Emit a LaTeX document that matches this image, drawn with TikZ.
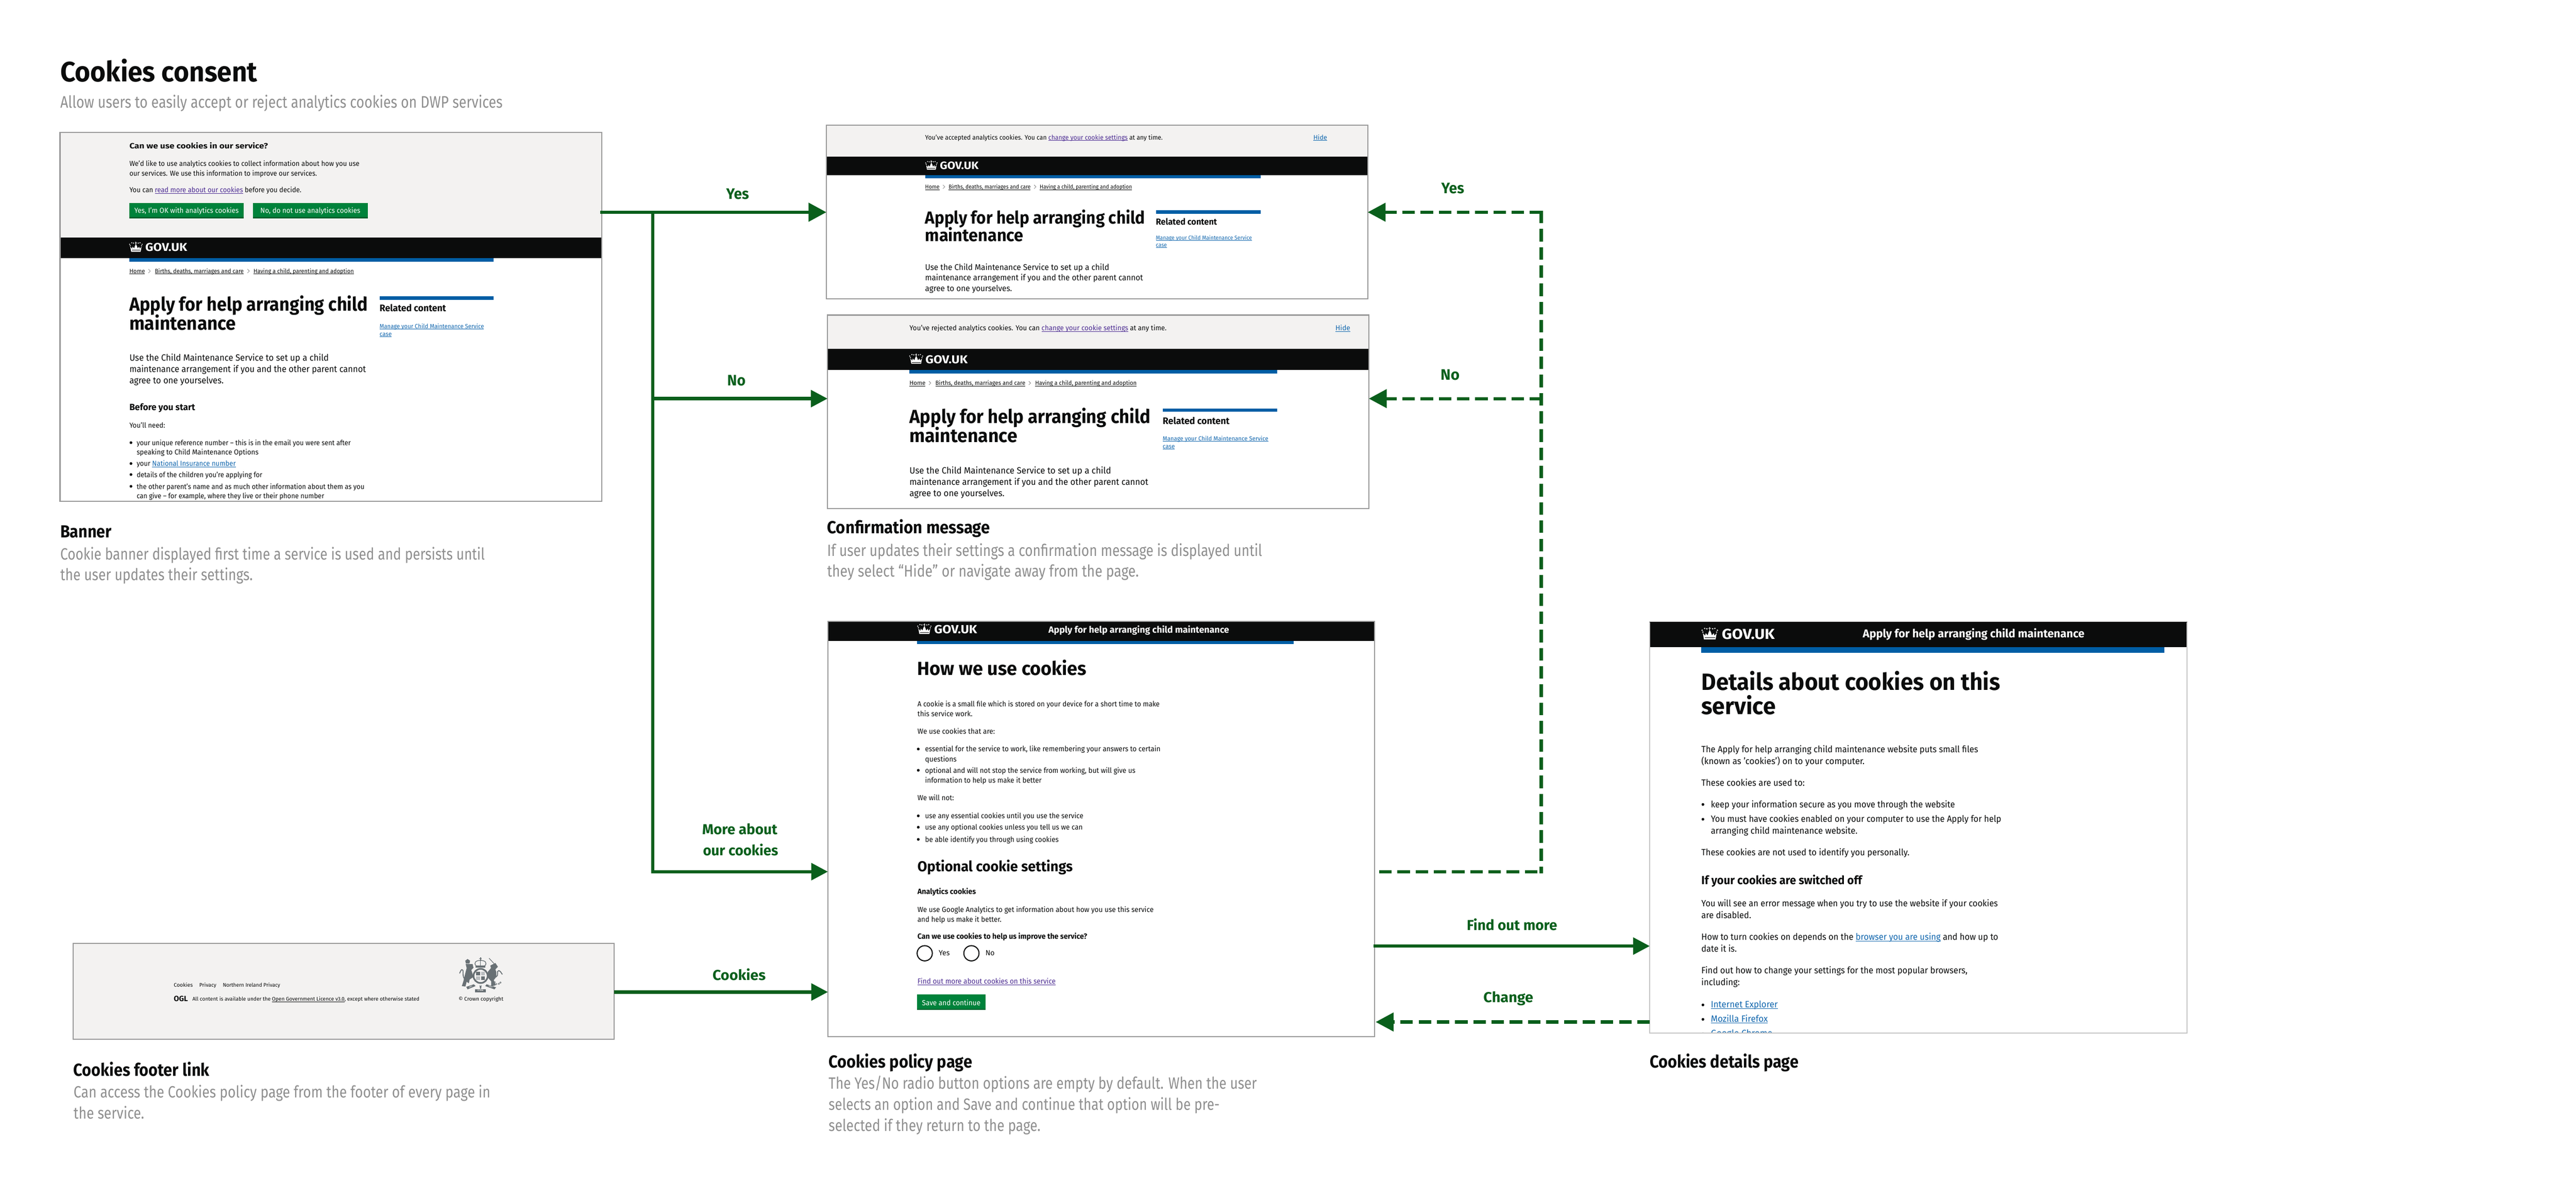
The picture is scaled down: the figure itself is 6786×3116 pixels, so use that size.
\documentclass[tikz,border=0pt]{standalone}
\usepackage{fontspec}
\usepackage{graphicx}
\setmainfont{Fira Sans}
\usetikzlibrary{arrows.meta}
\definecolor{ink}{HTML}{0B0C0C}
\definecolor{bandgrey}{HTML}{F3F2F1}
\definecolor{edgegrey}{HTML}{999999}
\definecolor{capgrey}{HTML}{8F8F8F}
\definecolor{barblue}{HTML}{005EA5}
\definecolor{lnkblue}{HTML}{1267AE}
\definecolor{lnkpurple}{HTML}{4C2C92}
\definecolor{flowgreen}{HTML}{0A5F1C}
\definecolor{btngreen}{HTML}{00823B}
\definecolor{btndark}{HTML}{00622D}
\definecolor{crestgrey}{HTML}{687074}
\newcounter{txc}
\newcommand{\tx}[6][]{%
  \stepcounter{txc}%
  \pgfmathsetmacro\txW{(#3-#2)*0.5}%
  \pgfmathsetmacro\txF{#5*0.5}%
  \node[txt,#1] (t\arabic{txc}) at (#2,#4) {\fontsize{\txF pt}{\txF pt}\selectfont\resizebox{\txW pt}{\height}{#6}};}
\newcommand{\lnk}[2][lnkblue]{{\color{#1}\setbox0=\hbox{#2}\rlap{\rule[-0.13em]{\wd0}{0.06em}}\box0}}
\newcommand{\panelnode}[6][panel]{%
  \pgfmathsetmacro\pnW{(#5-#3)*0.5}%
  \pgfmathsetmacro\pnH{(#6-#4)*0.5}%
  \node[#1,minimum width=\pnW pt,minimum height=\pnH pt] (#2) at ({(#3+#5)/2},{(#4+#6)/2}) {};}
\newcommand{\edge}[2][edgegrey]{\draw[#1,line width=1.5pt] (#2.north west) rectangle (#2.south east);}
\newcommand{\bul}[2]{\fill[ink] (#1,#2) circle (3.6);}
\newcommand{\chev}[2]{\draw[gray,line width=0.5pt] (#1-3,#2-11) -- (#1+2,#2-6) -- (#1-3,#2-1);}
\newcommand{\crownat}[3]{% left, baseline, width
  \pgfmathsetmacro\crK{#3/46}%
  \pgfmathsetmacro\crY{#2+1-34*\crK}%
  \pic[scale=\crK] at (#1,\crY) {govcrown};}
\tikzset{
  txt/.style={anchor=base west,inner sep=0pt,outer sep=0pt,text=ink},
  bf/.style={font=\bfseries},
  capt/.style={text=capgrey},
  wht/.style={text=white},
  lab/.style={text=flowgreen,font=\bfseries},
  panel/.style={rectangle,inner sep=0pt,outer sep=0pt,fill=white},
  flow/.style={draw=flowgreen,line width=4.4pt,-{Triangle[length=22pt,width=22pt]},color=flowgreen},
  flowbig/.style={draw=flowgreen,line width=4.5pt,-{Triangle[length=23.5pt,width=24pt]},color=flowgreen},
  flowline/.style={draw=flowgreen,line width=4.25pt},
  flowd/.style={flowbig,line width=4.25pt,dash pattern=on 16.5pt off 7.5pt},
  flowdline/.style={flowline,dash pattern=on 16.5pt off 7.5pt},
  govcrown/.pic={
    \fill[white] (4,17) -- (10,24) -- (12,17) -- (17,23) -- (20,14) -- (23,9) -- (26,14) -- (29,23) -- (34,17) -- (36,24) -- (42,17) -- (39,34) -- (7,34) -- cycle;
    \fill[white] (22,0) rectangle (24,10);
    \fill[white] (19.5,3) rectangle (26.5,5);
    \foreach \a/\b in {2/9,9/4,15/5,31/5,37/4,44/9,4/14,42/14} {\fill[white] (\a,\b) circle (2);}
    \draw[ink,line width=0.3pt] (9,29) -- (37,29);
  }
}
\begin{document}
\begin{tikzpicture}[x=0.5pt,y=-0.5pt]
\useasboundingbox (0,0) rectangle (6786,3116);
\fill[white] (0,0) rectangle (6786,3116);

% Heading
\tx[bf]{159}{678}{215}{74}{Cookies consent}
\tx[capt]{159}{1324}{284}{44}{Allow users to easily accept or reject analytics cookies on DWP services}

% ===== Banner panel =====
\panelnode{banner}{158}{349}{1585}{1321}
\fill[bandgrey] (banner.north west) rectangle (1585,625);
\fill[ink] (158,625) rectangle (1585,680);
\fill[barblue] (340,680) rectangle (1300,690);
\tx[bf]{341}{706}{392}{20}{Can we use cookies in our service?}
\tx{341}{947}{438}{19}{We'd like to use analytics cookies to collect information about how you use}
\tx{341}{835}{463}{19}{our services. We use this information to improve our services.}
\tx{341}{794}{507.5}{19}{You can \lnk[lnkpurple]{read more about our cookies} before you decide.}
\fill[btngreen] (340,535) rectangle (642,575);
\fill[btndark] (340,572) rectangle (642,575);
\tx[wht]{354}{629}{561}{19}{Yes, I'm OK with analytics cookies}
\fill[btngreen] (666,535) rectangle (969,575);
\fill[btndark] (666,572) rectangle (969,575);
\tx[wht]{686}{949}{561}{19}{No, do not use analytics cookies}
\crownat{340}{662}{36}
\tx[wht,bf]{383}{493}{662}{30}{GOV.UK}
\tx{341}{382}{720}{16}{\lnk[ink]{Home}}
\chev{394}{720}
\tx{408}{642}{720}{16}{\lnk[ink]{Births, deaths, marriages and care}}
\chev{655}{720}
\tx{668}{932}{720}{16}{\lnk[ink]{Having a child, parenting and adoption}}
\tx[bf]{341}{969}{819}{50}{Apply for help arranging child}
\tx[bf]{341}{622}{869}{50}{maintenance}
\fill[barblue] (1000,780) rectangle (1300,790);
\tx[bf]{1000}{1175}{821}{25}{Related content}
\tx{1000}{1275}{865}{16}{\lnk{Manage your Child Maintenance Service}}
\tx{1000}{1032}{885}{16}{\lnk{case}}
\tx{341}{866}{951}{24}{Use the Child Maintenance Service to set up a child}
\tx{341}{964}{981}{24}{maintenance arrangement if you and the other parent cannot}
\tx{341}{589}{1011}{24}{agree to one yourselves.}
\tx[bf]{341}{514}{1080.5}{24}{Before you start}
\tx{341}{435}{1127}{19}{You’ll need:}
\bul{345}{1166}
\tx{360}{924}{1173}{19}{your unique reference number – this is in the email you were sent after}
\tx{360}{681}{1198}{19}{speaking to Child Maintenance Options}
\bul{345}{1221}
\tx{360}{621}{1228}{19}{your \lnk{National Insurance number}}
\bul{345}{1250}
\tx{360}{691}{1257.5}{19}{details of the children you’re applying for}
\bul{345}{1281}
\tx{360}{960}{1288}{19}{the other parent's name and as much other information about them as you}
\tx{360}{854}{1313}{19}{can give – for example, where they live or their phone number}
\edge{banner}
\tx[bf]{159}{294}{1416}{46}{Banner}
\tx[capt]{159}{1277}{1474}{43}{Cookie banner displayed first time a service is used and persists until}
\tx[capt]{159}{666}{1529}{43}{the user updates their settings.}

% ===== Accepted confirmation =====
\panelnode{yes}{2177}{330}{3603}{787}
\fill[bandgrey] (yes.north west) rectangle (3603,412);
\fill[ink] (2177,412) rectangle (3603,462);
\fill[barblue] (2437,462) rectangle (3321,470);
\tx{2437}{3063}{368}{17.5}{You’ve accepted analytics cookies. You can \lnk[lnkpurple]{change your cookie settings} at any time.}
\tx{3460}{3496}{368}{17.5}{\lnk{Hide}}
\crownat{2437}{446}{33}
\tx[wht,bf]{2476}{2578}{446}{28}{GOV.UK}
\tx{2437}{2475}{498}{15}{\lnk[ink]{Home}}
\chev{2487}{498}
\tx{2499}{2715}{498}{15}{\lnk[ink]{Births, deaths, marriages and care}}
\chev{2727}{498}
\tx{2739}{2982}{498}{15}{\lnk[ink]{Having a child, parenting and adoption}}
\tx[bf]{2437}{3016}{590}{46}{Apply for help arranging child}
\tx[bf]{2437}{2696}{636}{46}{maintenance}
\fill[barblue] (3045,554) rectangle (3321,563);
\tx[bf]{3045}{3206}{592}{23}{Related content}
\tx{3045}{3298}{632}{15}{\lnk{Manage your Child Maintenance Service}}
\tx{3045}{3074}{651}{15}{\lnk{case}}
\tx{2437}{2922}{712}{22}{Use the Child Maintenance Service to set up a child}
\tx{2437}{3011}{739}{22}{maintenance arrangement if you and the other parent cannot}
\tx{2437}{2666}{767}{22}{agree to one yourselves.}
\edge{yes}

% ===== Rejected confirmation =====
\panelnode{no}{2180}{830}{3606}{1340}
\fill[bandgrey] (no.north west) rectangle (3606,919);
\fill[ink] (2180,919) rectangle (3606,974);
\fill[barblue] (2395,974) rectangle (3365,984);
\tx{2396}{3073}{871}{19}{You’ve rejected analytics cookies. You can \lnk[lnkpurple]{change your cookie settings} at any time.}
\tx{3518}{3557}{871}{19}{\lnk{Hide}}
\crownat{2395}{957}{37}
\tx[wht,bf]{2438}{2549}{957}{30}{GOV.UK}
\tx{2396}{2438}{1015}{16}{\lnk[ink]{Home}}
\chev{2450}{1015}
\tx{2464}{2701}{1015}{16}{\lnk[ink]{Births, deaths, marriages and care}}
\chev{2713}{1015}
\tx{2727}{2994}{1015}{16}{\lnk[ink]{Having a child, parenting and adoption}}
\tx[bf]{2396}{3031}{1115}{50}{Apply for help arranging child}
\tx[bf]{2396}{2680}{1165}{50}{maintenance}
\fill[barblue] (3063,1076) rectangle (3365,1085);
\tx[bf]{3063}{3239}{1117}{25}{Related content}
\tx{3063}{3341}{1160.5}{16}{\lnk{Manage your Child Maintenance Service}}
\tx{3063}{3095}{1181}{16}{\lnk{case}}
\tx{2396}{2927}{1248}{24}{Use the Child Maintenance Service to set up a child}
\tx{2396}{3025}{1278}{24}{maintenance arrangement if you and the other parent cannot}
\tx{2396}{2646}{1308}{24}{agree to one yourselves.}
\edge{no}
\tx[bf]{2179}{2608}{1406}{46}{Confirmation message}
\tx[capt]{2179}{3325}{1465}{43}{If user updates their settings a confirmation message is displayed until}
\tx[capt]{2179}{3000}{1520}{43}{they select “Hide” or navigate away from the page.}

% ===== Cookies policy page =====
\panelnode{policy}{2181}{1637}{3621}{2731}
\fill[ink] (2181,1637) rectangle (3621,1688);
\fill[barblue] (2416,1688) rectangle (3408,1697);
\crownat{2416}{1669}{38}
\tx[wht,bf]{2461}{2574}{1669}{31}{GOV.UK}
\tx[wht,bf]{2762}{3238}{1667}{24}{Apply for help arranging child maintenance}
\tx[bf]{2417}{2862}{1779}{50}{How we use cookies}
\tx{2417}{3055}{1861}{19.5}{A cookie is a small file which is stored on your device for a short time to make}
\tx{2417}{2562}{1887}{19.5}{this service work.}
\tx{2417}{2621}{1933}{19.5}{We use cookies that are:}
\bul{2419}{1973}
\tx{2437}{3057}{1980}{19.5}{essential for the service to work, like remembering your answers to certain}
\tx{2437}{2520}{2006}{19.5}{questions}
\bul{2419}{2029}
\tx{2437}{2991}{2036}{19.5}{optional and will not stop the service from working, but will give us}
\tx{2437}{2744}{2062}{19.5}{information to help us make it better}
\tx{2417}{2513}{2109}{19.5}{We will not:}
\bul{2419}{2149}
\tx{2437}{2854}{2156}{19.5}{use any essential cookies until you use the service}
\bul{2419}{2179}
\tx{2437}{2852}{2186}{19.5}{use any optional cookies unless you tell us we can}
\bul{2419}{2211}
\tx{2437}{2789}{2218}{19.5}{be able identify you through using cookies}
\tx[bf]{2417}{2826}{2296}{38}{Optional cookie settings}
\tx[bf]{2417}{2571}{2355.5}{20}{Analytics cookies}
\tx{2417}{3039}{2403}{19.5}{We use Google Analytics to get information about how you use this service}
\tx{2417}{2638}{2428}{19.5}{and help us make it better.}
\tx[bf]{2417}{2864}{2474}{20}{Can we use cookies to help us improve the service?}
\draw[ink,line width=1.4pt] (2436,2511) circle (20);
\tx{2473}{2502}{2517}{19.5}{Yes}
\draw[ink,line width=1.4pt] (2559,2511) circle (20);
\tx{2596}{2620}{2517}{19.5}{No}
\tx{2417}{2781}{2592}{19.5}{\lnk[lnkpurple]{Find out more about cookies on this service}}
\fill[btngreen] (2416,2620) rectangle (2596,2660);
\fill[btndark] (2416,2657) rectangle (2596,2660);
\tx[wht]{2429}{2583}{2648}{19.5}{Save and continue}
\edge{policy}
\tx[bf]{2183}{2561}{2813}{46}{Cookies policy page}
\tx[capt]{2183}{3311}{2869}{43}{The Yes/No radio button options are empty by default. When the user}
\tx[capt]{2183}{3213}{2924}{43}{selects an option and Save and continue that option will be pre-}
\tx[capt]{2183}{2741}{2980}{43}{selected if they return to the page.}

% ===== Cookies details page =====
\panelnode{details}{4346}{1638}{5761}{2721}
\fill[ink] (4346,1638) rectangle (5761,1705);
\fill[barblue] (4481,1705) rectangle (5701,1719);
\crownat{4482}{1683}{44}
\tx[wht,bf]{4536}{4675}{1683}{38}{GOV.UK}
\tx[wht,bf]{4907}{5491}{1680}{30}{Apply for help arranging child maintenance}
\tx[bf]{4482}{5269}{1818}{62}{Details about cookies on this}
\tx[bf]{4482}{4678}{1882}{62}{service}
\tx{4482}{5211}{1982}{24}{The Apply for help arranging child maintenance website puts small files}
\tx{4482}{4912}{2013}{24}{(known as 'cookies') on to your computer.}
\tx{4482}{4754}{2070}{24}{These cookies are used to:}
\bul{4486}{2119}
\tx{4507}{5150}{2127}{24}{keep your information secure as you move through the website}
\bul{4486}{2158}
\tx{4507}{5272}{2165}{24}{You must have cookies enabled on your computer to use the Apply for help}
\tx{4507}{4893}{2197}{24}{arranging child maintenance website.}
\tx{4482}{5030}{2254}{24}{These cookies are not used to identify you personally.}
\tx[bf]{4482}{4905}{2330}{31}{If your cookies are switched off}
\tx{4482}{5263}{2388}{24}{You will see an error message when you try to use the website if your cookies}
\tx{4482}{4613}{2419}{24}{are disabled.}
\tx{4482}{5264}{2476}{24}{How to turn cookies on depends on the \lnk{browser you are using} and how up to}
\tx{4482}{4575}{2508}{24}{date it is.}
\tx{4482}{5183}{2565}{24}{Find out how to change your settings for the most popular browsers,}
\tx{4482}{4583}{2596}{24}{including:}
\bul{4486}{2647}
\tx{4507}{4683}{2654}{24}{\lnk{Internet Explorer}}
\bul{4486}{2685}
\tx{4507}{4657}{2692}{24}{\lnk{Mozilla Firefox}}
\begin{scope}
\clip (details.north west) rectangle (details.south east);
\bul{4486}{2723}
\tx{4507}{4669}{2730}{24}{\lnk{Google Chrome}}
\end{scope}
\draw[gray!45,line width=1pt] (details.north west) rectangle (details.south east);
\fill[ink] (4346,1638) rectangle (5761,1640);
\tx[bf]{4346}{4738}{2813}{46}{Cookies details page}

% ===== Footer panel =====
\panelnode[panel,fill=bandgrey]{footer}{192.5}{2485}{1618}{2737}
\tx{458}{508}{2600}{14}{Cookies}
\tx{525}{570}{2600}{14}{Privacy}
\tx{587}{738}{2600}{14}{Northern Ireland Privacy}
\tx[bf]{458}{495}{2637}{20}{OGL}
\tx{507}{1105}{2637}{14}{All content is available under the \lnk[ink]{Open Government Licence v3.0}, except where otherwise stated}
\tx{1208}{1326}{2636}{14}{© Crown copyright}
% Royal coat of arms (zoom-pixel coordinates, 3 units = 1 px)
\begin{scope}[shift={(1190,2510)},x=0.16667pt,y=-0.16667pt]
  % lion
  \fill[crestgrey] (107,62) -- (125,48) -- (145,62) -- (140,84) -- (112,84) -- cycle;
  \fill[crestgrey] (110,88) -- (165,88) -- (172,118) -- (155,135) -- (172,190) -- (142,210) -- (135,240) -- (118,228) -- (108,266) -- (80,262) -- (92,225) -- (100,190) -- (110,150) -- (118,120) -- cycle;
  \draw[crestgrey,line width=1.2pt] (100,205) .. controls (78,170) and (100,130) .. (80,132) .. controls (72,135) and (68,150) .. (62,162);
  % unicorn
  \draw[crestgrey,line width=0.8pt] (295,42) -- (335,85);
  \fill[crestgrey] (305,100) -- (345,80) -- (365,110) -- (345,130) -- (352,150) -- (352,190) -- (332,215) -- (348,255) -- (312,266) -- (312,225) -- (290,200) -- (285,150) -- (310,120) -- cycle;
  \draw[crestgrey,line width=1.2pt] (350,190) .. controls (375,180) and (350,140) .. (372,140) .. controls (385,142) and (392,160) .. (400,170);
  \foreach \a/\b in {340/232,352/246,385/234,372/244} {\draw[crestgrey,line width=0.5pt] (\a,\b) circle (6);}
  % central crown
  \fill[crestgrey] (223,35) rectangle (231,70);
  \fill[crestgrey] (217,42) rectangle (237,49);
  \draw[crestgrey,line width=0.9pt,fill=bandgrey] (193,102) .. controls (170,80) and (190,58) .. (227,60) .. controls (264,58) and (284,80) .. (261,102) -- cycle;
  \draw[crestgrey,line width=0.5pt] (227,60) -- (227,102);
  \fill[crestgrey] (190,100) rectangle (264,116);
  % garter and shield
  \draw[crestgrey,line width=2.2pt,fill=bandgrey] (228,182) circle (56);
  \fill[crestgrey] (194,150) rectangle (228,182);
  \fill[crestgrey] (228,182) rectangle (262,216);
  \fill[crestgrey!45] (228,150) rectangle (262,182);
  \fill[crestgrey!45] (194,182) rectangle (228,216);
  \fill[bandgrey] (224,146) rectangle (232,220);
  \fill[bandgrey] (190,178) rectangle (266,186);
  % ribbon
  \fill[crestgrey] (115,268) -- (175,248) -- (188,262) -- (125,288) -- cycle;
  \fill[crestgrey] (185,288) -- (268,288) -- (268,310) -- (185,310) -- cycle;
  \fill[crestgrey] (275,248) -- (350,272) -- (338,288) -- (265,262) -- cycle;
  \fill[crestgrey] (220,255) -- (228,262) -- (236,255) -- (232,283) -- (224,283) -- cycle;
  \node[text=bandgrey,font=\bfseries\fontsize{2.2pt}{2.2pt}\selectfont,inner sep=0pt] (crestb) at (227,299) {ET MON};
  \node[text=bandgrey,font=\bfseries\fontsize{2pt}{2pt}\selectfont,inner sep=0pt,rotate=21] (cresta) at (150,268) {DIEU};
  \node[text=bandgrey,font=\bfseries\fontsize{2pt}{2pt}\selectfont,inner sep=0pt,rotate=-18] (crestc) at (308,268) {DROIT};
\end{scope}
\edge{footer}
\tx[bf]{194}{552}{2835}{46}{Cookies footer link}
\tx[capt]{194}{1292}{2892}{43}{Can access the Cookies policy page from the footer of every page in}
\tx[capt]{194}{380}{2947}{43}{the service.}

% ===== Connectors =====
\coordinate (bannerOut) at (1581,559);
\coordinate (trunkTop) at (1720,555);
\coordinate (trunkNo) at (1716,1050);
\coordinate (trunkMore) at (1716,2296);
\coordinate (footerOut) at (footer.east |- 0,2613);
\coordinate (policyOutFind) at (3618,2492);
\coordinate (policyOutBack) at (3633,2296);
\coordinate (backCorner) at (4064,2296);
\coordinate (backTop) at (4060,555);
\coordinate (backBottom) at (4060,2300);
\coordinate (backYes) at (4063,559);
\coordinate (backNo) at (4063,1050);
\coordinate (changeIn) at (3624,2692);

\draw[flowbig] (bannerOut) -- (yes.west |- bannerOut);
\draw[flowline] (trunkTop) -- (1720,2300);
\draw[flow] (trunkNo) -- (no.west |- trunkNo);
\draw[flow] (trunkMore) -- (policy.west |- trunkMore);
\draw[flow] (footerOut) -- (policy.west |- footerOut);
\draw[flowdline] (policyOutBack) -- (backCorner);
\draw[flowdline] (backTop) -- (backBottom);
\draw[flowd] (backYes) -- (yes.east |- backYes);
\draw[flowd] (backNo) -- (no.east |- backNo);
\draw[flow] (policyOutFind) -- (details.west |- policyOutFind);
\draw[flowd] (details.west |- changeIn) -- (changeIn);

% ===== Connector labels =====
\tx[lab]{1913}{1973}{525}{40}{Yes}
\tx[lab]{1916}{1964}{1016}{40}{No}
\tx[lab]{1850}{2048}{2198}{38}{More about}
\tx[lab]{1852}{2050}{2253}{38}{our cookies}
\tx[lab]{1877}{2017}{2582}{38}{Cookies}
\tx[lab]{3797}{3857}{509}{40}{Yes}
\tx[lab]{3795}{3845}{1000.5}{40}{No}
\tx[lab]{3864}{4102}{2451}{38}{Find out more}
\tx[lab]{3908}{4039}{2641}{38}{Change}
\end{tikzpicture}
\end{document}
